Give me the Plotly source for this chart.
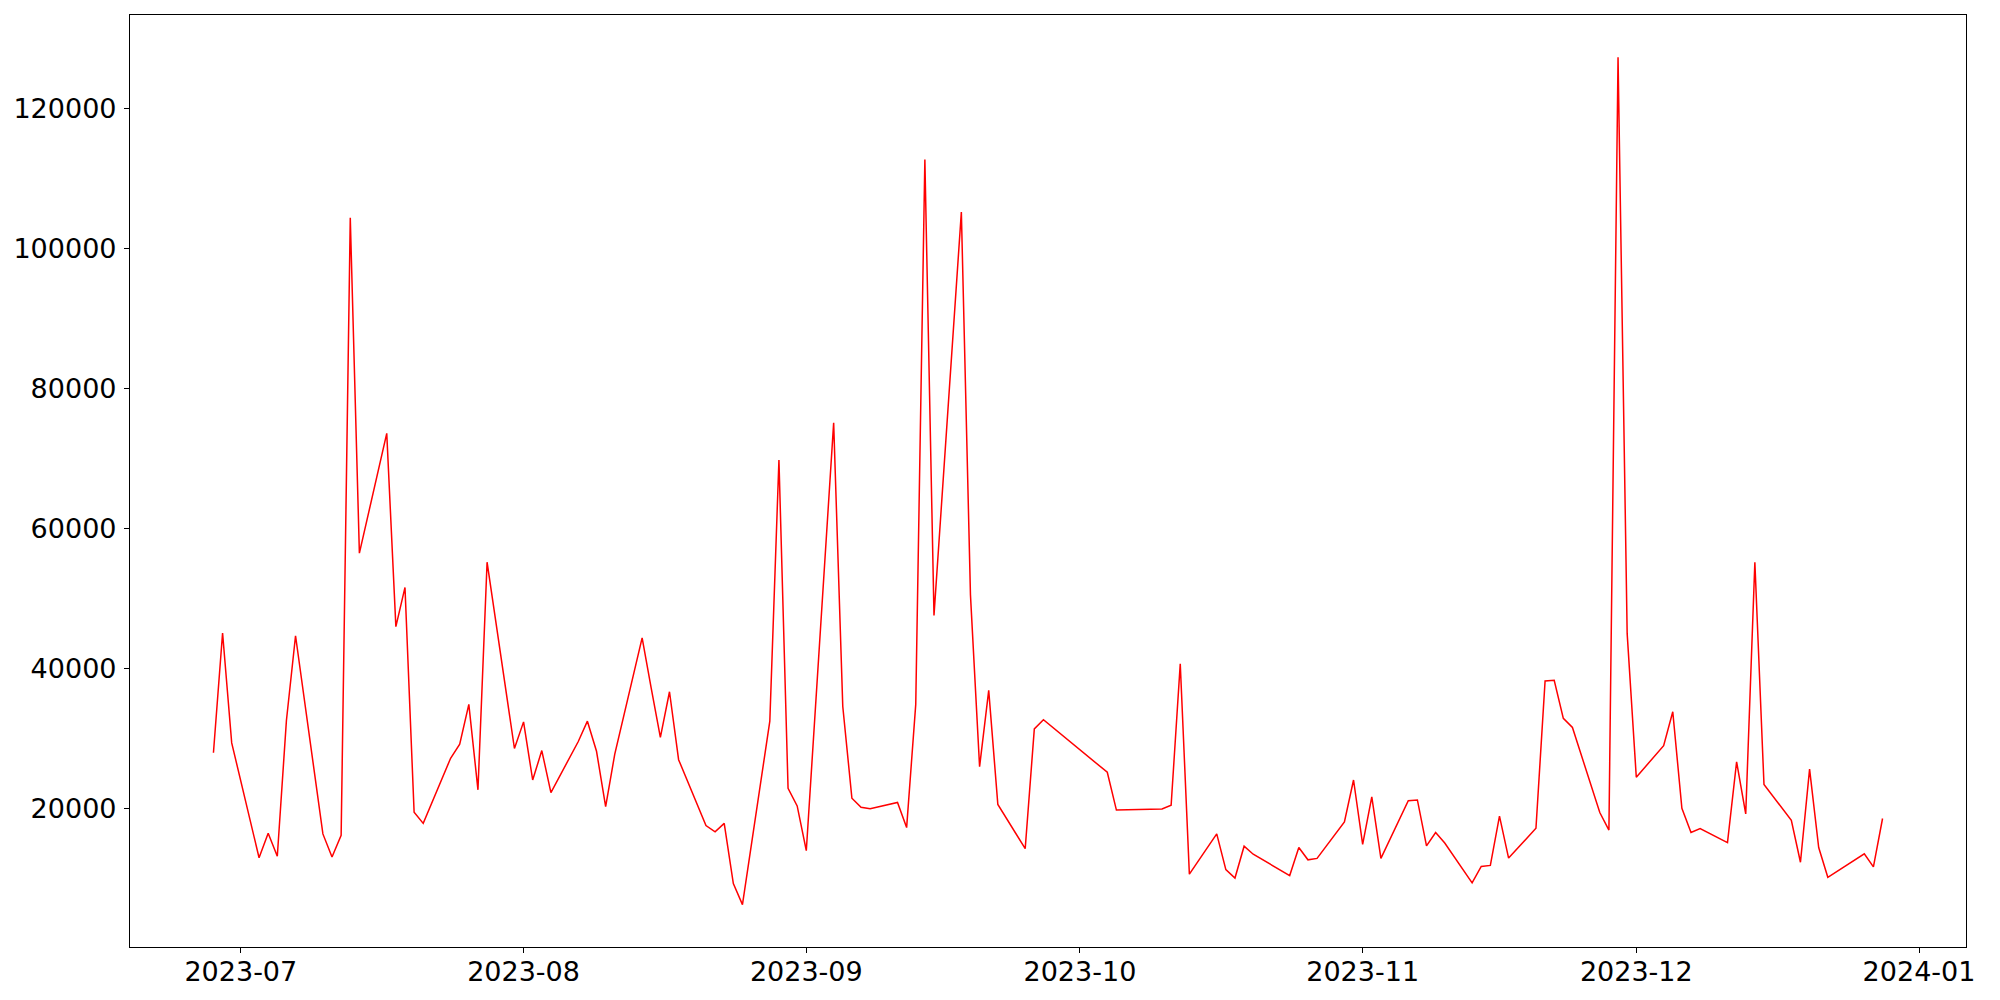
"""
每日数值折线图
"""
import pandas as pd
import plotly.graph_objects as go

# 日期与数值
dates = [
    '2023-06-28', '2023-06-29', '2023-06-30',
    '2023-07-03', '2023-07-04', '2023-07-05', '2023-07-06', '2023-07-07',
    '2023-07-10', '2023-07-11', '2023-07-12', '2023-07-13', '2023-07-14',
    '2023-07-17', '2023-07-18', '2023-07-19', '2023-07-20', '2023-07-21',
    '2023-07-24', '2023-07-25', '2023-07-26', '2023-07-27', '2023-07-28',
    '2023-07-31', '2023-08-01', '2023-08-02', '2023-08-03', '2023-08-04',
    '2023-08-07', '2023-08-08', '2023-08-09', '2023-08-10', '2023-08-11',
    '2023-08-14', '2023-08-15', '2023-08-16', '2023-08-17', '2023-08-18',
    '2023-08-21', '2023-08-22', '2023-08-23', '2023-08-24', '2023-08-25',
    '2023-08-28', '2023-08-29', '2023-08-30', '2023-08-31', '2023-09-01',
    '2023-09-04', '2023-09-05', '2023-09-06', '2023-09-07', '2023-09-08',
    '2023-09-11', '2023-09-12', '2023-09-13', '2023-09-14', '2023-09-15',
    '2023-09-18', '2023-09-19', '2023-09-20', '2023-09-21', '2023-09-22',
    '2023-09-25', '2023-09-26', '2023-09-27',
    '2023-10-04', '2023-10-05',
    '2023-10-10', '2023-10-11', '2023-10-12', '2023-10-13',
    '2023-10-16', '2023-10-17', '2023-10-18', '2023-10-19', '2023-10-20',
    '2023-10-24', '2023-10-25', '2023-10-26', '2023-10-27',
    '2023-10-30', '2023-10-31', '2023-11-01', '2023-11-02', '2023-11-03',
    '2023-11-06', '2023-11-07', '2023-11-08', '2023-11-09', '2023-11-10',
    '2023-11-13', '2023-11-14', '2023-11-15', '2023-11-16', '2023-11-17',
    '2023-11-20', '2023-11-21', '2023-11-22', '2023-11-23', '2023-11-24',
    '2023-11-27', '2023-11-28', '2023-11-29', '2023-11-30', '2023-12-01',
    '2023-12-04', '2023-12-05', '2023-12-06', '2023-12-07', '2023-12-08',
    '2023-12-11', '2023-12-12', '2023-12-13', '2023-12-14', '2023-12-15',
    '2023-12-18', '2023-12-19', '2023-12-20', '2023-12-21', '2023-12-22',
    '2023-12-26', '2023-12-27', '2023-12-28',
]

values = [
    28000, 45100, 29400,
    13000, 16500, 13200, 32600, 44700,
    16400, 13100, 16200, 104400, 56500,
    73600, 46000, 51600, 19500, 17900,
    27200, 29200, 34900, 22700, 55200,
    28600, 32400, 24100, 28300, 22300,
    29600, 32500, 28200, 20300, 27800,
    44400, 37200, 30200, 36700, 27000,
    17600, 16700, 17900, 9300, 6300,
    32500, 69800, 22900, 20400, 14000,
    75100, 34600, 21500, 20200, 20000,
    20900, 17300, 34900, 112700, 47600,
    105200, 50500, 26000, 36900, 20600,
    14300, 31400, 32700,
    25200, 19800,
    19950, 20500, 40700, 10650,
    16400, 11300, 10100, 14650, 13500,
    10450, 14450, 12700, 12900,
    18100, 24100, 14900, 21700, 12900,
    21150, 21250, 14700, 16600, 15100,
    9400, 11750, 11900, 18950, 12950,
    17200, 38250, 38350, 32900, 31600,
    19450, 16950, 127300, 45000, 24500,
    29000, 33850, 20050, 16600, 17150,
    15150, 26700, 19250, 55200, 23450,
    18350, 12350, 25650, 14450, 10200,
    13550, 11700, 18600,
]

x_ticks = ['2023-07-01', '2023-08-01', '2023-09-01', '2023-10-01',
           '2023-11-01', '2023-12-01', '2024-01-01']
y_ticks = [20000, 40000, 60000, 80000, 100000, 120000]

x = pd.to_datetime(dates)

# 类似 matplotlib 的 5% 边距
x_span = x.max() - x.min()
x_range = [x.min() - 0.05 * x_span, x.max() + 0.05 * x_span]
y_span = max(values) - min(values)
y_range = [min(values) - 0.05 * y_span, max(values) + 0.05 * y_span]

fig = go.Figure()

fig.add_trace(go.Scatter(
    x=x,
    y=values,
    mode='lines',
    line=dict(color='red', width=1.5),
    showlegend=False
))

axis_style = dict(
    showline=True,
    linecolor='black',
    linewidth=1.2,
    mirror=True,
    showgrid=False,
    zeroline=False,
    automargin=False,
    ticks='outside',
    ticklen=5,
    tickwidth=1.1,
    tickcolor='black',
    tickfont=dict(family='DejaVu Sans', size=27, color='black'),
)

fig.update_xaxes(
    range=x_range,
    tickvals=pd.to_datetime(x_ticks),
    ticktext=[d[:7] for d in x_ticks],
    ticklabelstandoff=-5,
    **axis_style
)
fig.update_yaxes(
    range=y_range,
    tickvals=y_ticks,
    ticktext=[str(v) for v in y_ticks],
    ticklabelstandoff=2,
    **axis_style
)

# 页面 body 默认有 8px 边距，图尺寸相应缩小
fig.update_layout(
    width=1992,
    height=992,
    margin=dict(l=122, r=34, t=7, b=53),
    plot_bgcolor='white',
    paper_bgcolor='white',
)

fig.write_html("out.html")
